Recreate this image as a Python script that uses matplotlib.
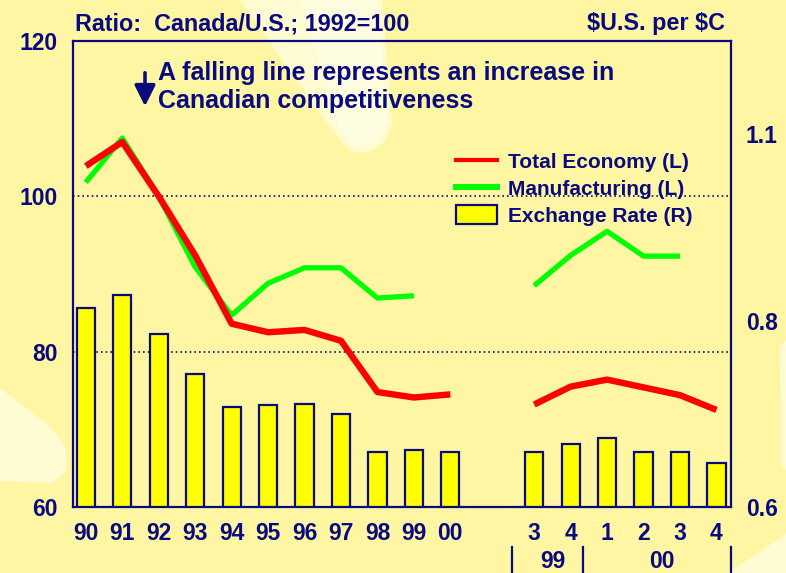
import numpy as np
import matplotlib
matplotlib.use("Agg")
import matplotlib.pyplot as plt
from matplotlib.patches import Polygon, Rectangle, FancyArrowPatch
from matplotlib.lines import Line2D
from matplotlib.transforms import blended_transform_factory

plt.rcParams['font.family'] = ['Liberation Sans', 'DejaVu Sans']
plt.rcParams['font.weight'] = 'bold'

# ---------------- data ----------------
annual_labels = ['90', '91', '92', '93', '94', '95', '96', '97', '98', '99', '00']
quarter_labels = ['3', '4', '1', '2', '3', '4']
quarter_years = ['99', '99', '00', '00', '00', '00']

total_annual = [103.9, 107.0, 100.0, 92.4, 83.6, 82.5, 82.8, 81.4, 74.8, 74.1, 74.5]
total_quarter = [73.2, 75.5, 76.4, 75.4, 74.4, 72.5]
manuf_annual = [101.8, 107.5, 100.0, 90.9, 84.7, 88.8, 90.8, 90.8, 86.9, 87.2, np.nan]
manuf_quarter = [88.5, 92.4, 95.5, 92.3, 92.3, np.nan]
exch_annual = [0.814, 0.827, 0.786, 0.743, 0.707, 0.709, 0.711, 0.700, 0.659, 0.661, 0.659]
exch_quarter = [0.659, 0.668, 0.674, 0.659, 0.659, 0.647]

left_ticks = [60, 80, 100, 120]
right_tick_values = [0.6, 0.8, 1.0]
right_tick_labels = ['0.6', '0.8', '1.1']

title_left = 'Ratio:  Canada/U.S.; 1992=100'
title_right = '$U.S. per $C'
note_lines = ['A falling line represents an increase in', 'Canadian competitiveness']
legend_labels = ['Total Economy (L)', 'Manufacturing (L)', 'Exchange Rate (R)']

# ---------------- style ----------------
W, H = 786, 573
BG = '#FFF6A3'
LIGHT = '#FFFBD2'
LIGHTER = '#FFFDE0'
NAVY = '#0A0A80'
RED = '#FF0000'
GREEN = '#00FF00'
YELLOW = '#FFFF00'

def fx(px):
    return px / W

def fy(py):
    return 1 - py / H

fig = plt.figure(figsize=(W / 100, H / 100), dpi=100, facecolor=BG)

# decorative light shapes in the background
shapes = [
    ([(240, 0), (382, 0), (390, 100), (392, 123), (385, 142), (368, 152), (352, 152),
      (340, 140), (310, 100)], LIGHT),
    ([(300, 0), (378, 0), (385, 100), (386, 122), (378, 140), (362, 148), (352, 146),
      (340, 128)], LIGHTER),
    ([(0, 388), (52, 428), (65, 446), (67, 470), (52, 483), (0, 481)], LIGHT),
    ([(728, 573), (786, 534), (786, 573)], LIGHT),
    ([(780, 345), (786, 340), (786, 470), (781, 465)], LIGHT),
]
for pts, col in shapes:
    fig.patches.append(Polygon([(fx(x), fy(y)) for x, y in pts], closed=True,
                               transform=fig.transFigure, facecolor=col,
                               edgecolor='none', zorder=-5))

rect = [fx(72.7), fy(507), fx(730.7) - fx(72.7), fy(41) - fy(507)]
ax = fig.add_axes(rect)          # left scale, grid
axb = ax.twinx()                 # right scale, bars
axl = ax.twinx()                 # left scale, lines
ax.set_zorder(1)
axb.set_zorder(2)
axl.set_zorder(3)
for a in (ax, axb, axl):
    a.patch.set_visible(False)

xa = np.arange(len(annual_labels))
xq = np.arange(len(quarter_labels)) + 12.3
xlim = (-0.36, 17.69)

# grid
ax.set_ylim(60, 120)
ax.set_xlim(*xlim)
ax.set_yticks(left_ticks)
ax.set_yticklabels([str(t) for t in left_ticks])
ax.yaxis.grid(True, color=NAVY, linestyle=(0, (1, 1.8)), linewidth=1.2)
ax.tick_params(axis='y', length=0, pad=11, labelsize=16.5, labelcolor=NAVY)
ax.set_xticks(np.concatenate([xa, xq]))
ax.set_xticklabels(annual_labels + quarter_labels)
ax.tick_params(axis='x', length=0, pad=11, labelsize=16.5, labelcolor=NAVY)
for s in ax.spines.values():
    s.set_visible(False)

# bars on right scale
axb.set_ylim(0.6, 1.1)
axb.set_xlim(*xlim)
axb.bar(xa, exch_annual, width=0.5, color=YELLOW, edgecolor=NAVY, linewidth=1.6)
axb.bar(xq, exch_quarter, width=0.5, color=YELLOW, edgecolor=NAVY, linewidth=1.6)
axb.set_yticks(right_tick_values)
axb.set_yticklabels(right_tick_labels)
axb.tick_params(axis='y', length=0, pad=11, labelsize=16.5, labelcolor=NAVY)
for s in axb.spines.values():
    s.set_visible(False)

# lines on left scale
axl.set_ylim(60, 120)
axl.set_xlim(*xlim)
axl.set_yticks([])
axl.plot(xa, manuf_annual, color=GREEN, lw=3.8, solid_joinstyle='round', solid_capstyle='butt')
axl.plot(xq, manuf_quarter, color=GREEN, lw=3.8, solid_joinstyle='round', solid_capstyle='butt')
axl.plot(xa, total_annual, color=RED, lw=4.6, solid_joinstyle='round', solid_capstyle='butt')
axl.plot(xq, total_quarter, color=RED, lw=4.6, solid_joinstyle='round', solid_capstyle='butt')
for s in axl.spines.values():
    s.set_color(NAVY)
    s.set_linewidth(1.6)

# second row of x labels: years of the quarters
bt = blended_transform_factory(ax.transData, ax.transAxes)
years_unique = list(dict.fromkeys(quarter_years))
for yr in years_unique:
    pos = [p for p, y in zip(xq, quarter_years) if y == yr]
    ax.text(np.mean(pos), -0.117, yr, transform=bt, ha='center', va='center',
            fontsize=16.5, color=NAVY, fontweight='bold')
# separators
sep_x = [xq[0] - 0.62]
for i in range(1, len(quarter_years)):
    if quarter_years[i] != quarter_years[i - 1]:
        sep_x.append((xq[i - 1] + xq[i]) / 2 - 0.15)
sep_x.append(xlim[1])
for sx in sep_x:
    ax.add_line(Line2D([sx, sx], [-0.086, -0.15], transform=bt, color=NAVY,
                       lw=1.6, clip_on=False))

# titles
fig.text(fx(75), fy(30), title_left, ha='left', va='baseline', fontsize=16.8,
         color=NAVY, fontweight='bold', parse_math=False)
fig.text(fx(725), fy(30), title_right, ha='right', va='baseline', fontsize=16.8,
         color=NAVY, fontweight='bold', parse_math=False)

# note with arrow
fig.text(fx(158), fy(80), note_lines[0], ha='left', va='baseline', fontsize=18,
         color=NAVY, fontweight='bold')
fig.text(fx(158), fy(108), note_lines[1], ha='left', va='baseline', fontsize=18,
         color=NAVY, fontweight='bold')
fig.patches.append(FancyArrowPatch(
    (fx(145), fy(70)), (fx(145), fy(109)), transform=fig.transFigure,
    arrowstyle='-|>,head_width=0.35,head_length=0.7', mutation_scale=18,
    color=NAVY, lw=2.6, zorder=5))

# legend
handles = [Line2D([], [], color=RED, lw=3.0),
           Line2D([], [], color=GREEN, lw=4.3),
           Rectangle((0, 0), 1, 1, facecolor=YELLOW, edgecolor=NAVY, lw=1.6)]
leg = axl.legend(handles, legend_labels, loc='upper left',
                 bbox_to_anchor=(fx(456), fy(152)), bbox_transform=fig.transFigure,
                 frameon=False, borderpad=0, borderaxespad=0, handlelength=1.95,
                 handleheight=1.0, handletextpad=0.55, labelspacing=0.3,
                 prop={'size': 15, 'weight': 'bold'}, labelcolor=NAVY)

fig.savefig('out.png', dpi=100, facecolor=BG)
